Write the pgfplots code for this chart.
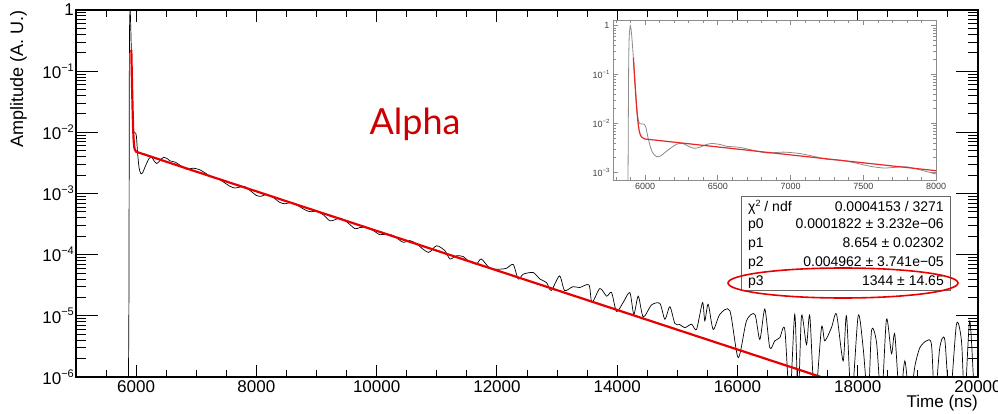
\documentclass[border=0pt]{standalone}
\usepackage{pgfplots}
\pgfplotsset{compat=1.18}
\usepackage{pgfplotstable}
\usepackage{fontspec}
\setmainfont{Liberation Sans}
\newfontfamily\latofont{Lato}
\definecolor{fitred}{RGB}{232,0,0}
\definecolor{alphared}{RGB}{204,0,0}
\newcommand{\mysup}[1]{\raisebox{0.42em}{\fontsize{11}{11}\selectfont #1}}
\newcommand{\isup}[1]{\raisebox{0.42em}{\fontsize{6}{6}\selectfont #1}}

\pgfplotstableread{
t v
5870 5e-7
5880 2e-5
5888 0.2
5897 0.93
5905 0.8
5915 0.35
5930 0.08
5945 0.018
5958 0.0105
5975 0.0098
5990 0.0098
6005 0.0085
6025 0.0045
6050 0.0026
6080 0.0021
6110 0.0022
6140 0.0026
6180 0.0032
6220 0.0038
6260 0.0039
6300 0.0034
6340 0.0031
6380 0.0033
6420 0.0037
6460 0.0039
6520 0.0037
6563 0.00341
6650 0.00326
6750 0.0028
6840 0.00249
6950 0.0026
7060 0.00244
7160 0.00213
7250 0.00186
7350 0.00176
7450 0.00155
7550 0.00133
7640 0.00123
7720 0.00127
7800 0.0013
7900 0.00111
8000 0.00093
8080 0.0009
8170 0.00097
8280 0.00086
8390 0.000714
8480 0.00068
8585 0.000715
8700 0.000625
8835 0.000524
8920 0.000503
9000 0.000515
9110 0.000451
9220 0.000359
9300 0.000371
9390 0.000397
9500 0.000345
9640 0.000266
9720 0.000278
9830 0.000278
9950 0.000246
10054 0.000212
10165 2.18e-4
10276 2.05e-4
10442 1.59e-4
10553 1.70e-4
10664 1.50e-4
10858 1.09e-4
10996 1.40e-4
11135 1.16e-4
11218 8.5e-5
11330 9.6e-5
11440 9.3e-5
11518 8.0e-5
11656 7.0e-5
11740 8.5e-5
11883 6.0e-5
12049 5.8e-5
12160 6.0e-5
12271 6.9e-5
12354 4.0e-5
12437 4.8e-5
12603 5.1e-5
12715 4.0e-5
12825 3.5e-5
12903 2.6e-5
13041 4.5e-5
13125 2.6e-5
13264 3.0e-5
13375 2.9e-5
13530 3.2e-5
13580 1.66e-5
13712 2.8e-5
13823 2.1e-5
13906 2.4e-5
13989 1.18e-5
14100 1.66e-5
14210 2.4e-5
14277 1.06e-5
14350 2.1e-5
14433 9.6e-6
14571 1.51e-5
14710 1.59e-5
14793 8.8e-6
14876 1.41e-5
14959 7.5e-6
15040 7.2e-6
15125 6.4e-6
15236 7.3e-6
15319 6.0e-6
15419 1.65e-5
15457 8.3e-6
15513 1.55e-5
15596 6.0e-6
15707 1.06e-5
15873 1.21e-5
16012 2.07e-6
16150 8.3e-6
16289 1.06e-5
16372 4.1e-6
16455 1.29e-5
16538 3.0e-6
16621 3.9e-6
16704 4.4e-6
16787 6.0e-6
16870 4e-7
16953 1.06e-5
17009 4e-7
17065 1.0e-5
17148 3.4e-6
17203 1.0e-5
17286 4e-7
17397 6.4e-6
17452 3.9e-6
17563 6.4e-6
17647 1.06e-5
17757 1.83e-6
17813 1.0e-5
17896 4e-7
18007 1.0e-5
18090 3.0e-6
18173 4e-7
18229 5.7e-6
18312 3.7e-6
18395 4e-7
18478 8.8e-6
18561 2.4e-6
18616 5.0e-6
18700 4e-7
18783 1.83e-6
18866 4e-7
18950 1.5e-6
19032 3.0e-6
19143 3.9e-6
19226 3.4e-6
19281 4e-7
19364 3.0e-6
19447 4.1e-6
19531 4e-7
19642 7.3e-6
19725 3.9e-6
19780 4e-7
19863 8.3e-6
19946 4e-7
20000 4e-7
}\blackdata

\pgfplotstableread{
t v
5920 0.2201
5925 0.1258
5930 0.0728
5935 0.0431
5940 0.0264
5945 0.0170
5950 0.01176
5955 0.00880
5960 0.00713
5965 0.00619
5970 0.00565
5980 0.00517
5990 0.00499
6000 0.00482
7000 0.002281
8000 0.001084
9000 0.000515
10000 0.0002448
11000 0.0001163
12000 5.526e-5
13000 2.626e-5
14000 1.248e-5
15000 5.93e-6
16000 2.817e-6
17000 1.339e-6
17400 9.9e-7
}\fitdata

\begin{document}
\begin{tikzpicture}[x=1pt,y=1pt]
\useasboundingbox (0,0) rectangle (998,413);

% main axis: data + x ticks
\begin{axis}[
  at={(76pt,36pt)}, anchor=south west,
  width=902pt, height=367pt, scale only axis,
  xmin=5000, xmax=20000, ymin=1e-6, ymax=1, ymode=log,
  scaled x ticks=false,
  xtick={6000,8000,...,20000},
  xticklabels={6000,8000,10000,12000,14000,16000,18000,20000},
  minor xtick={5000,5500,...,20000},
  ytick=\empty, yminorticks=false,
  major tick length=12pt, minor tick length=7pt,
  tick style={black, line width=0.9pt},
  axis line style={line width=1.1pt},
  tick label style={font=\fontsize{17}{17}\selectfont},
  xlabel={Time (ns)},
  xlabel style={at={(rel axis cs:1,-0.049)}, anchor=north east, inner sep=0pt, font=\fontsize{17}{17}\selectfont},
]
\addplot[black, line width=0.7pt, smooth, tension=0.45] table[x=t,y=v] {\blackdata};
\addplot[fitred, line width=2.2pt] table[x=t,y=v] {\fitdata};
\end{axis}

% main axis: y ticks
\begin{axis}[
  at={(76pt,36pt)}, anchor=south west,
  width=902pt, height=367pt, scale only axis,
  xmin=5000, xmax=20000, ymin=1e-6, ymax=1, ymode=log,
  xtick=\empty, scaled x ticks=false,
  ytick={1e-6,1e-5,1e-4,1e-3,1e-2,1e-1,1},
  yticklabels={10\mysup{−6},10\mysup{−5},10\mysup{−4},10\mysup{−3},10\mysup{−2},10\mysup{−1},1},
  major tick length=22pt, minor tick length=10pt,
  tick style={black, line width=0.9pt},
  axis line style={line width=1.1pt},
  tick label style={font=\fontsize{17}{17}\selectfont},
  yticklabel style={inner xsep=2pt},
  ylabel={Amplitude (A. U.)},
  ylabel style={at={(rel axis cs:-0.0543,1)}, anchor=south east, inner sep=0pt, font=\fontsize{18}{18}\selectfont},
]
\end{axis}

% inset
\begin{axis}[
  at={(613pt,233pt)}, anchor=south west,
  width=323pt, height=160pt, scale only axis,
  xmin=5780, xmax=8000, ymin=7e-4, ymax=1.3, ymode=log,
  scaled x ticks=false,
  xtick={6000,6500,7000,7500,8000},
  xticklabels={6000,6500,7000,7500,8000},
  minor xtick={5800,5900,...,8000},
  ytick={1e-3,1e-2,1e-1,1},
  yticklabels={10\isup{−3},10\isup{−2},10\isup{−1},1},
  axis line style={black!45, line width=0.9pt},
  tick style={black!45, line width=0.6pt},
  major tick length=5pt, minor tick length=3pt,
  tick label style={font=\fontsize{9}{9}\selectfont, text=black!75},
  axis background/.style={fill=white},
]
\addplot[black!45, line width=0.8pt, smooth, tension=0.45] table[x=t,y=v] {\blackdata};
\addplot[fitred!85, line width=1.2pt] table[x=t,y=v] {\fitdata};
\end{axis}

% stats box
\draw[black!60, line width=1pt, fill=white] (741,123) rectangle (950,216.5);
\begin{scope}[every node/.style={font=\fontsize{14}{14}\selectfont, inner sep=0pt}]
\node[anchor=base west] at (748,201.3) {χ\raisebox{0.4em}{\fontsize{9}{9}\selectfont 2} / ndf};
\node[anchor=base east] at (944,201.3) {0.0004153 / 3271};
\node[anchor=base west] at (748,184.7) {p0};
\node[anchor=base east] at (944,184.7) {0.0001822 ± 3.232e−06};
\node[anchor=base west] at (748,165.7) {p1};
\node[anchor=base east] at (944,165.7) {8.654 ± 0.02302};
\node[anchor=base west] at (748,147) {p2};
\node[anchor=base east] at (944,147) {0.004962 ± 3.741e−05};
\node[anchor=base west] at (748,128) {p3};
\node[anchor=base east] at (944,128) {1344 ± 14.65};
\end{scope}
\draw[fitred, line width=1.6pt] (843,130) ellipse [x radius=115, y radius=15];

% label
\node[font=\latofont\fontsize{36}{36}\selectfont, text=alphared, anchor=base] at (415,278) {Alpha};
\end{tikzpicture}
\end{document}
